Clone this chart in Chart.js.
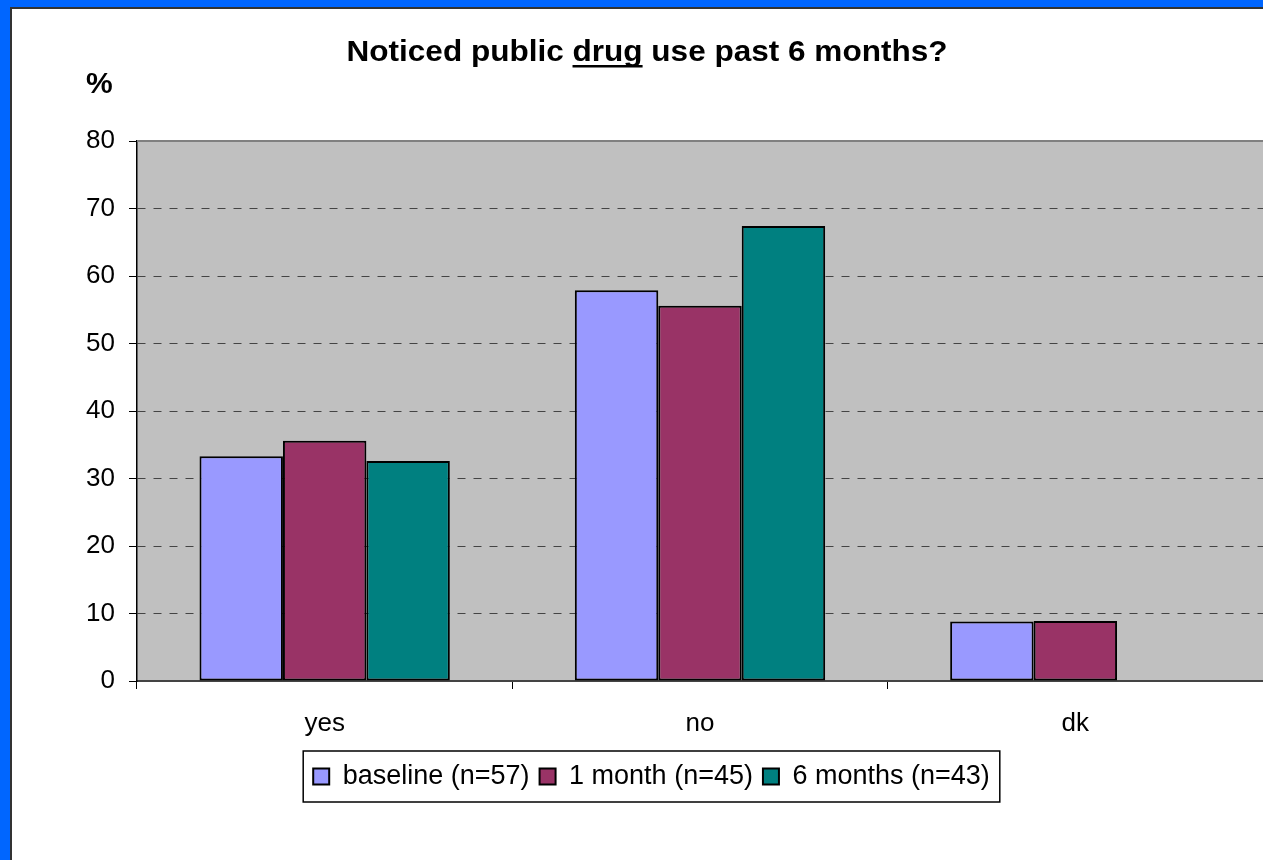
<!DOCTYPE html>
<html>
<head>
<meta charset="utf-8">
<script src="https://cdn.jsdelivr.net/npm/chart.js@4/dist/chart.umd.min.js"></script>
<style>
	html, body { margin: 0; padding: 0; background: #0066ff; overflow: hidden; }
	#frame {
		position: absolute; left: 10px; top: 7px;
		border-left: 2px solid #333; border-top: 2px solid #333;
		background: #fff; width: 1251px; height: 851px;
	}
	#chart { display: block; }
</style>
</head>
<body>
<div id="frame"><canvas id="chart" width="1251" height="851"></canvas></div>
<script>
"use strict";

const categories = ["yes", "no", "dk"];
const seriesNames = ["baseline (n=57)", "1 month (n=45)", "6 months (n=43)"];
const baseline = [33.3, 57.9, 8.8];
const oneMonth = [35.6, 55.6, 8.9];
const sixMonths = [32.6, 67.4, 0];
const yTicks = [0, 10, 20, 30, 40, 50, 60, 70, 80];

const FONT = "'Liberation Sans', Arial, sans-serif";

// gray plot area behind the bars
const plotBackground = {
	id: "plotBackground",
	beforeDraw(chart) {
		const {ctx, chartArea: a} = chart;
		ctx.save();
		ctx.fillStyle = "#c0c0c0";
		ctx.fillRect(a.left, a.top, a.right - a.left, a.bottom - a.top);
		ctx.restore();
	},
	afterDraw(chart) {
		const {ctx, chartArea: a} = chart;
		ctx.save();
		ctx.strokeStyle = "#808080";
		ctx.lineWidth = 2;
		ctx.beginPath();
		ctx.moveTo(a.left, a.top);
		ctx.lineTo(a.right, a.top);
		ctx.stroke();
		ctx.restore();
	}
};

// title with underlined word, plus the % unit label
const titleText = {
	id: "titleText",
	afterDraw(chart) {
		const ctx = chart.ctx;
		const parts = ["Noticed public ", "drug", " use past 6 months?"];
		ctx.save();
		ctx.font = "bold 30px " + FONT;
		ctx.fillStyle = "#000";
		ctx.textBaseline = "alphabetic";
		const full = ctx.measureText(parts.join("")).width;
		const target = 601;
		const sx = target / full;
		const cx = 635;
		const baseY = 52;
		ctx.translate(cx - target / 2, baseY);
		ctx.scale(sx, 1);
		let x = 0;
		parts.forEach((p, i) => {
			ctx.fillText(p, x, 0);
			const w = ctx.measureText(p).width;
			if (i === 1) {
				ctx.fillRect(x, 4, w, 2.5);
			}
			x += w;
		});
		ctx.restore();

		ctx.save();
		ctx.font = "bold 30px " + FONT;
		ctx.fillStyle = "#000";
		ctx.fillText("%", 74, 76);
		ctx.restore();
	}
};

// box drawn around the legend items
const legendBorder = {
	id: "legendBorder",
	afterDraw(chart) {
		const boxes = chart.legend.legendHitBoxes;
		if (!boxes || !boxes.length) return;
		const first = boxes[0];
		const last = boxes[boxes.length - 1];
		const ctx = chart.ctx;
		const left = first.left - 10;
		const right = last.left + last.width + 10;
		const top = first.top - 12;
		const bottom = first.top + first.height + 12;
		ctx.save();
		ctx.strokeStyle = "#000";
		ctx.lineWidth = 1.5;
		ctx.strokeRect(left, top, right - left, bottom - top);
		ctx.restore();
	}
};

function makeDataset(label, data, color) {
	return {
		label: label,
		data: data,
		backgroundColor: color,
		borderColor: "#000",
		borderWidth: 2,
		borderSkipped: false,
		categoryPercentage: 0.667,
		barPercentage: 1.0
	};
}

const ctx = document.querySelector("#chart").getContext("2d");

new Chart(ctx, {
	type: "bar",
	data: {
		labels: categories,
		datasets: [
			makeDataset(seriesNames[0], baseline, "#9999ff"),
			makeDataset(seriesNames[1], oneMonth, "#993366"),
			makeDataset(seriesNames[2], sixMonths, "#008080")
		]
	},
	plugins: [plotBackground, titleText, legendBorder],
	options: {
		responsive: false,
		animation: false,
		layout: {
			padding: {left: 28, right: 0, top: 132, bottom: 60}
		},
		plugins: {
			title: {display: false},
			tooltip: {enabled: false},
			legend: {
				position: "bottom",
				labels: {
					color: "#000",
					font: {family: FONT, size: 27},
					boxWidth: 16,
					boxHeight: 16,
					padding: 10
				}
			}
		},
		scales: {
			x: {
				offset: true,
				afterFit: s => { s.height = 72; },
				grid: {
					offset: true,
					drawOnChartArea: false,
					drawTicks: true,
					tickLength: 8,
					tickColor: "#000"
				},
				border: {display: true, color: "#444", width: 2},
				ticks: {
					color: "#000",
					font: {family: FONT, size: 26},
					padding: 19
				}
			},
			y: {
				min: 0,
				max: 80,
				afterFit: s => { s.width = 97; },
				afterBuildTicks: s => { s.ticks = yTicks.map(v => ({value: v})); },
				grid: {
					color: c => (c.tick && (c.tick.value === 0 || c.tick.value === 80)) ? "rgba(0,0,0,0)" : "#444",
					lineWidth: 1,
					drawTicks: true,
					tickLength: 8,
					tickColor: "#000",
					tickBorderDash: []
				},
				border: {display: true, color: "#000", width: 1.5, dash: [8, 8]},
				ticks: {
					color: "#000",
					font: {family: FONT, size: 26},
					padding: 14
				}
			}
		}
	}
});
</script>
</body>
</html>
